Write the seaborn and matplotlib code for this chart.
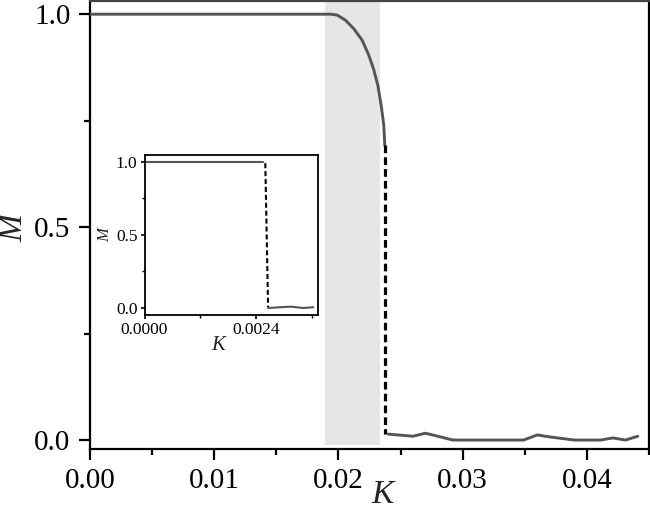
import numpy as np
import pandas as pd
import matplotlib
matplotlib.use("Agg")
import matplotlib.pyplot as plt
import seaborn as sns
from matplotlib.ticker import MultipleLocator, FixedLocator, FixedFormatter

# ---- main panel data ----
K_upper = [0.0, 0.0194, 0.01989, 0.02056, 0.02123, 0.02191, 0.02244, 0.02285,
           0.02317, 0.02344, 0.02365, 0.02373]
M_upper = [1.0, 1.0, 0.998, 0.986, 0.966, 0.939, 0.904, 0.869,
           0.833, 0.786, 0.739, 0.692]
K_jump = [0.02373, 0.02373]
M_jump = [0.692, 0.015]
K_lower = [0.0240, 0.0260, 0.0270, 0.0280, 0.0292, 0.0349, 0.0360, 0.0371,
           0.0390, 0.0411, 0.0421, 0.0431, 0.0441]
M_lower = [0.014, 0.009, 0.016, 0.009, 0.0, 0.0, 0.012, 0.007,
           0.0, 0.0, 0.005, 0.0, 0.009]
shade_K = [0.01895, 0.02333]

# ---- inset data ----
Ki_upper = [0.0, 0.00254]
Mi_upper = [1.0, 1.0]
Ki_jump = [0.00259, 0.00265]
Mi_jump = [0.99, 0.004]
Ki_lower = [0.00265, 0.0029, 0.00315, 0.0034, 0.00362]
Mi_lower = [0.0, 0.005, 0.009, 0.0, 0.005]

main_xticks = [0.00, 0.01, 0.02, 0.03, 0.04]
main_xticklabels = ["0.00", "0.01", "0.02", "0.03", "0.04"]
yticks = [0.0, 0.5, 1.0]
yticklabels = ["0.0", "0.5", "1.0"]
inset_xticks = [0.0, 0.0024]
inset_xticklabels = ["0.0000", "0.0024"]

sns.set_theme(style="ticks")
plt.rcParams['font.family'] = ['Liberation Serif', 'DejaVu Serif']
plt.rcParams['axes.edgecolor'] = 'black'
plt.rcParams['xtick.color'] = 'black'
plt.rcParams['ytick.color'] = 'black'

fig = plt.figure(figsize=(6.5, 5.12), dpi=100)
ax = fig.add_axes([90/650, 1 - 449/512, (649 - 90)/650, (449 - 1)/512])

curve_col = "#555555"
ax.fill_between(shade_K, [-0.012, -0.012], [1.1, 1.1], color="#e6e6e6", lw=0, zorder=0)
sns.lineplot(x=K_upper, y=M_upper, ax=ax, color=curve_col, lw=2.1, sort=False,
             estimator=None, zorder=3)
sns.lineplot(x=K_jump, y=M_jump, ax=ax, color="black", lw=2.3, sort=False,
             estimator=None, zorder=3, linestyle=(0, (2.4, 1.3)))
sns.lineplot(x=K_lower, y=M_lower, ax=ax, color=curve_col, lw=2.1, sort=False,
             estimator=None, zorder=3)

ax.set_xlim(0, 0.045)
ax.set_ylim(-0.021, 1.031)
ax.xaxis.set_major_locator(FixedLocator(main_xticks))
ax.xaxis.set_major_formatter(FixedFormatter(main_xticklabels))
ax.xaxis.set_minor_locator(MultipleLocator(0.005))
ax.yaxis.set_major_locator(FixedLocator(yticks))
ax.yaxis.set_major_formatter(FixedFormatter(yticklabels))
ax.yaxis.set_minor_locator(MultipleLocator(0.25))
ax.tick_params(which='major', direction='out', length=8, width=1.6, labelsize=21, pad=6)
ax.tick_params(which='minor', direction='out', length=4.5, width=1.6)
for s in ax.spines.values():
    s.set_linewidth(1.6)
    s.set_color('black')
ax.spines['top'].set_color('#444444')
ax.set_xlabel("")
ax.set_ylabel("")
fig.text(383/650, 1 - 495/512, "K", fontsize=24, fontstyle='italic', ha='center', va='center')
fig.text(14/650, 1 - 228/512, "M", fontsize=24, fontstyle='italic', ha='center', va='center',
         rotation=90)

# ---- inset ----
axi = fig.add_axes([144.5/650, 1 - 315/512, (318 - 144.5)/650, (315 - 155)/512])
sns.lineplot(x=Ki_upper, y=Mi_upper, ax=axi, color=curve_col, lw=1.5, sort=False,
             estimator=None)
sns.lineplot(x=Ki_jump, y=Mi_jump, ax=axi, color="black", lw=1.5, sort=False,
             estimator=None, linestyle=(0, (2.4, 1.4)))
sns.lineplot(x=Ki_lower, y=Mi_lower, ax=axi, color=curve_col, lw=1.5, sort=False,
             estimator=None)
axi.set_xlim(0, 0.00372)
axi.set_ylim(-0.048, 1.046)
axi.xaxis.set_major_locator(FixedLocator(inset_xticks))
axi.xaxis.set_major_formatter(FixedFormatter(inset_xticklabels))
axi.xaxis.set_minor_locator(FixedLocator([0.0012, 0.0036]))
axi.yaxis.set_major_locator(FixedLocator(yticks))
axi.yaxis.set_major_formatter(FixedFormatter(yticklabels))
axi.yaxis.set_minor_locator(MultipleLocator(0.25))
axi.tick_params(which='major', direction='out', length=3, width=1.2, labelsize=12.5, pad=2)
axi.tick_params(which='minor', direction='out', length=2, width=1.0)
for s in axi.spines.values():
    s.set_linewidth(1.3)
    s.set_color('black')
axi.set_xlabel("")
axi.set_ylabel("")
fig.text(218/650, 1 - 345/512, "K", fontsize=15, fontstyle='italic', ha='center', va='center')
fig.text(105/650, 1 - 235/512, "M", fontsize=12, fontstyle='italic', ha='center', va='center',
         rotation=90)

fig.savefig("out.png", dpi=100)
